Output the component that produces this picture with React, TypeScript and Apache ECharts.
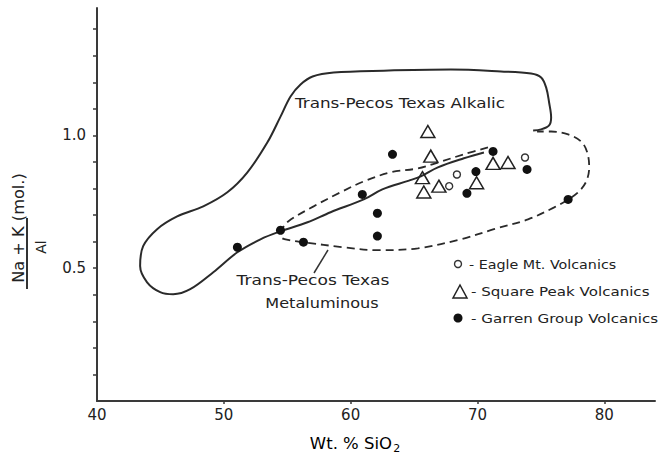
import React, { useEffect, useRef } from "react";
import * as echarts from "echarts";

// ---- axis ticks ----
const xTickLabels = [40, 50, 60, 70, 80];
const xTickMarks = [50, 60, 70, 80];
const yTickLabels = [0.5, 1.0];
const yTickMarks = [0.1, 0.2, 0.3, 0.4, 0.5, 0.6, 0.7, 0.8, 0.9, 1.0, 1.1, 1.2, 1.3, 1.4];

// ---- field outlines (Wt.% SiO2, (Na+K)/Al) ----
const alkalicField: number[][] = [
  [74.39, 1.019], [75.02, 1.023], [75.65, 1.038], [75.81, 1.068], [75.65, 1.124],
  [75.42, 1.18], [75.02, 1.218], [74.23, 1.233], [71.86, 1.241], [67.91, 1.248],
  [62.61, 1.244], [58.66, 1.237], [57.0, 1.222], [56.05, 1.192], [55.26, 1.147],
  [54.47, 1.071], [53.44, 0.974], [51.86, 0.861], [50.28, 0.786], [48.38, 0.733],
  [46.32, 0.695], [44.74, 0.647], [43.64, 0.583], [43.4, 0.508], [43.95, 0.447],
  [44.98, 0.41], [46.01, 0.402], [47.35, 0.421], [49.17, 0.485], [51.07, 0.56],
  [52.89, 0.609], [54.47, 0.639], [56.6, 0.673], [58.42, 0.711], [61.03, 0.759],
  [62.5, 0.797], [64.6, 0.83], [65.53, 0.846], [66.88, 0.88], [68.93, 0.914],
  [70.51, 0.936],
];

const metaluminousField: number[][] = [
  [70.83, 0.955], [68.93, 0.929], [66.88, 0.898], [65.3, 0.876], [63.16, 0.861],
  [61.03, 0.827], [59.21, 0.786], [57.08, 0.733], [55.1, 0.677], [54.62, 0.647],
  [54.55, 0.617], [55.26, 0.605], [56.28, 0.598], [59.45, 0.579], [62.13, 0.568],
  [65.3, 0.575], [68.7, 0.609], [71.3, 0.647], [73.99, 0.684], [76.05, 0.729],
  [77.15, 0.759], [77.94, 0.786], [78.58, 0.827], [78.81, 0.88], [78.66, 0.936],
  [78.18, 0.977], [77.15, 1.004], [75.81, 1.015], [74.7, 1.015],
];

// ---- samples ----
const eagleMt: number[][] = [
  [68.38, 0.853], [67.77, 0.809], [73.75, 0.917],
];
const squarePeak: number[][] = [
  [66.09, 1.015], [66.32, 0.922], [65.66, 0.841], [65.77, 0.787], [66.96, 0.809],
  [69.93, 0.822], [71.23, 0.895], [72.41, 0.898],
];
const garrenGroup: number[][] = [
  [51.07, 0.579], [54.47, 0.643], [56.28, 0.598], [60.92, 0.778], [62.11, 0.707],
  [62.11, 0.621], [63.3, 0.929], [69.88, 0.864], [69.17, 0.782], [71.23, 0.94],
  [73.91, 0.872], [77.15, 0.759],
];

const FONT = "DejaVu Sans";
const INK = "#222";

export default function App() {
  const ref = useRef<HTMLDivElement>(null);

  useEffect(() => {
    const chart = echarts.init(ref.current!, null, { renderer: "svg" });
    const textStyle = (text: string, size: number, align: string) => ({
      text,
      fontFamily: FONT,
      fontSize: size,
      fill: INK,
      align,
      verticalAlign: "middle",
    });
    const option: any = {
      animation: false,
      backgroundColor: "#fff",
      grid: { left: 97, right: 15, top: 8, bottom: 59, outerBoundsMode: "none" },
      xAxis: {
        type: "value",
        min: 40,
        max: 84,
        axisLine: { show: true, lineStyle: { color: "#3a3a3a", width: 2 } },
        axisTick: { show: true, customValues: xTickMarks, length: 3, lineStyle: { color: "#3a3a3a", width: 1.5 } },
        axisLabel: {
          customValues: xTickLabels,
          formatter: (v: number) => String(v),
          color: INK,
          fontFamily: FONT,
          fontSize: 15,
          margin: 6,
        },
        splitLine: { show: false },
      },
      yAxis: {
        type: "value",
        min: 0,
        max: 1.48,
        axisLine: { show: true, lineStyle: { color: "#3a3a3a", width: 2 } },
        axisTick: { show: true, customValues: yTickMarks, length: 4, lineStyle: { color: "#3a3a3a", width: 1.5 } },
        axisLabel: {
          customValues: yTickLabels,
          formatter: (v: number) => v.toFixed(1),
          color: INK,
          fontFamily: FONT,
          fontSize: 15,
          margin: 11,
        },
        splitLine: { show: false },
      },
      series: [
        {
          name: "Trans-Pecos Texas Alkalic",
          type: "line",
          data: alkalicField,
          smooth: 0.35,
          showSymbol: false,
          symbol: "none",
          lineStyle: { color: "#2a2a2a", width: 2 },
          z: 2,
        },
        {
          name: "Trans-Pecos Texas Metaluminous",
          type: "line",
          data: metaluminousField,
          smooth: 0.35,
          showSymbol: false,
          symbol: "none",
          lineStyle: { color: "#2a2a2a", width: 1.8, type: [8, 5] },
          z: 2,
        },
        {
          name: "Eagle Mt. Volcanics",
          type: "scatter",
          data: eagleMt,
          symbol: "circle",
          symbolSize: 7,
          itemStyle: { color: "rgba(255,255,255,0)", borderColor: "#333", borderWidth: 1.4, opacity: 1 },
          z: 5,
        },
        {
          name: "Square Peak Volcanics",
          type: "scatter",
          data: squarePeak,
          symbol: "triangle",
          symbolSize: [14, 12],
          itemStyle: { color: "rgba(255,255,255,0)", borderColor: "#222", borderWidth: 1.5, opacity: 1 },
          z: 5,
        },
        {
          name: "Garren Group Volcanics",
          type: "scatter",
          data: garrenGroup,
          symbol: "circle",
          symbolSize: 9,
          itemStyle: { color: "#111", opacity: 1 },
          z: 6,
        },
      ],
      graphic: [
        // y axis title
        {
          type: "text",
          x: 19,
          y: 228,
          rotation: Math.PI / 2,
          scaleX: 1.08,
          style: textStyle("Na + K (mol.)", 15, "center"),
        },
        { type: "line", shape: { x1: 27, y1: 218, x2: 27, y2: 289 }, style: { stroke: "#333", lineWidth: 2 } },
        {
          type: "text",
          x: 41,
          y: 247,
          rotation: Math.PI / 2,
          style: textStyle("Al", 14, "center"),
        },
        // x axis title
        {
          type: "text",
          x: 355,
          y: 444,
          scaleX: 1.1,
          style: {
            text: "{a|Wt. % SiO}{b|2}",
            align: "center",
            verticalAlign: "middle",
            rich: {
              a: { fontFamily: FONT, fontSize: 15, color: INK },
              b: { fontFamily: FONT, fontSize: 10, color: INK, padding: [8, 0, 0, 1] },
            },
          },
        },
        // field labels
        { type: "text", x: 400, y: 103, scaleX: 1.2, style: textStyle("Trans-Pecos Texas Alkalic", 14, "center") },
        { type: "text", x: 313, y: 281, scaleX: 1.22, style: textStyle("Trans-Pecos Texas", 14, "center") },
        { type: "text", x: 322, y: 303, scaleX: 1.15, style: textStyle("Metaluminous", 14, "center") },
        { type: "line", shape: { x1: 328, y1: 250, x2: 314, y2: 273 }, style: { stroke: "#333", lineWidth: 1.5 } },
        // legend
        { type: "circle", shape: { cx: 458, cy: 264, r: 3.5 }, style: { fill: "none", stroke: "#333", lineWidth: 1.4 } },
        { type: "text", x: 469, y: 264, scaleX: 1.1, style: textStyle("- Eagle Mt. Volcanics", 13, "left") },
        {
          type: "polygon",
          shape: { points: [[453, 298], [467, 298], [460, 285]] },
          style: { fill: "none", stroke: "#222", lineWidth: 1.5 },
        },
        { type: "text", x: 471, y: 291, scaleX: 1.16, style: textStyle("- Square Peak Volcanics", 13, "left") },
        { type: "circle", shape: { cx: 458, cy: 318, r: 4.5 }, style: { fill: "#111" } },
        { type: "text", x: 471, y: 318, scaleX: 1.16, style: textStyle("- Garren Group Volcanics", 13, "left") },
      ],
    };
    chart.setOption(option);
    return () => chart.dispose();
  }, []);

  return (
    <div
      ref={ref}
      style={{ position: "fixed", left: 0, top: 0, width: 670, height: 460, background: "#fff" }}
    />
  );
}
